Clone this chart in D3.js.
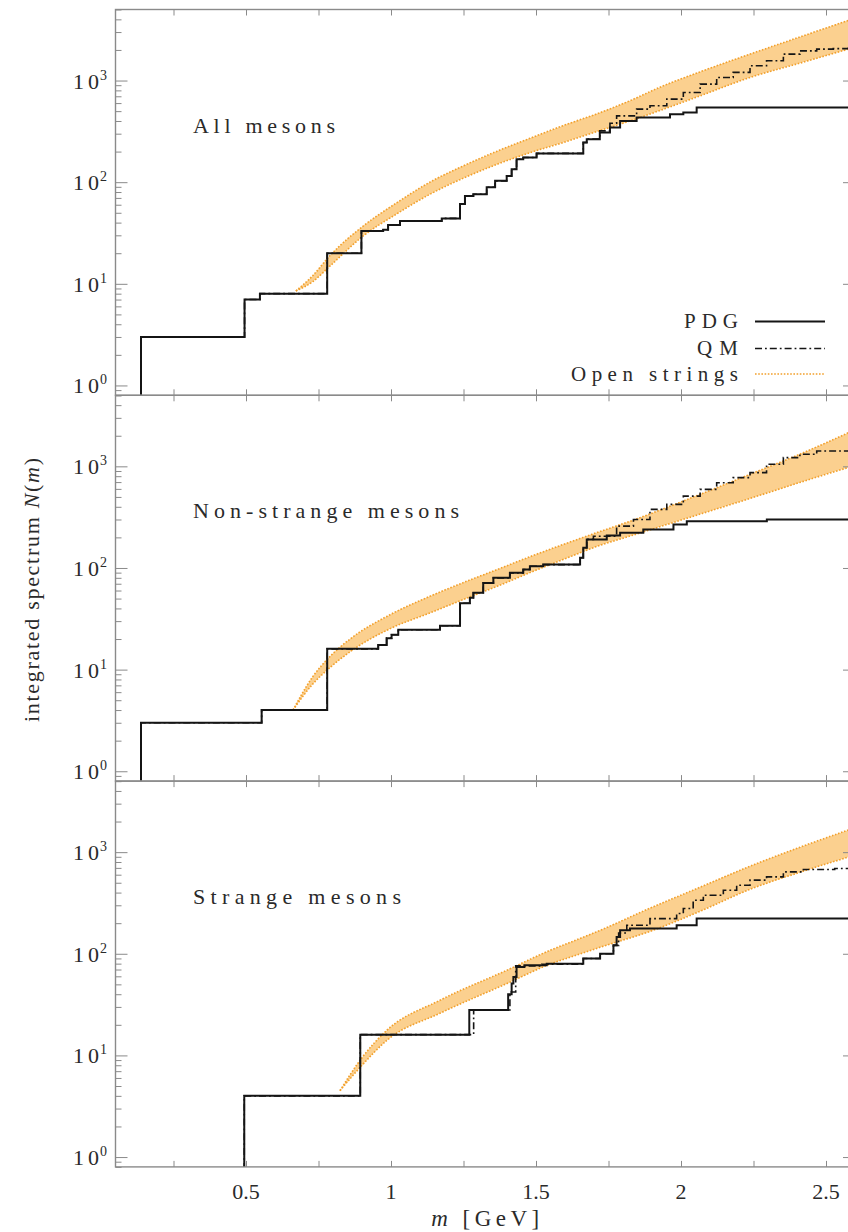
<!DOCTYPE html>
<html>
<head>
<meta charset="utf-8">
<script src="https://cdn.jsdelivr.net/npm/d3@7"></script>
<style>
  body { margin: 0; background: #fff; }
  svg { display: block; }
</style>
</head>
<body>
<svg id="chart" width="848" height="1232"></svg>
<script>
// ---- axes ----
const xDomain = [0.05, 2.6];          // m [GeV]
const yDomain = [0.8, 5000];          // N(m)
const xLabelTicks = [0.5, 1, 1.5, 2, 2.5];
const xMinorTicks = [0.25, 0.5, 0.75, 1, 1.25, 1.5, 1.75, 2, 2.25, 2.5];
const yDecades = [1, 10, 100, 1000];
const yDecadeExp = ["0", "1", "2", "3"];

const panelTitles = ["All mesons", "Non-strange mesons", "Strange mesons"];
const legendLabels = ["PDG", "QM", "Open strings"];

// ---- PDG integrated spectrum: [mass GeV, N(m) from that mass on] ----
const pdgAll = [[0.138,0],[0.138,3],[0.495,7],[0.548,8],[0.78,20],[0.898,33],[0.973,34],[0.99,38],[1.031,41.6],
  [1.175,44],[1.238,61],[1.255,73],[1.284,76],[1.33,89],[1.359,103],[1.399,115],[1.416,134],[1.433,168],[1.456,175],
  [1.502,192],[1.663,246],[1.675,265],[1.72,308],[1.755,345],[1.79,401],[1.847,433],[1.962,467],[2.008,485],[2.054,543]];
const pdgNonStrange = [[0.138,0],[0.138,3],[0.554,4],[0.78,16],[0.956,17.5],[0.985,20.4],[1.002,22],[1.025,24.7],
  [1.169,27],[1.238,45],[1.272,51],[1.284,57],[1.318,71],[1.353,80],[1.41,89.5],[1.456,96.5],[1.479,104],[1.525,108],
  [1.652,126],[1.663,158],[1.675,191],[1.744,209],[1.79,222],[1.87,239],[1.974,268],[2.02,289],[2.296,300]];
const pdgStrange = [[0.494,0],[0.494,4],[0.894,16],[1.27,28],[1.404,40],[1.416,51],[1.422,59],[1.433,74],[1.46,77],
  [1.537,80],[1.663,90],[1.721,100],[1.767,121],[1.778,146],[1.79,170],[1.824,177],[1.985,191],[2.054,222]];

// ---- quark-model spectrum ----
const qmAll = [[0.138,0],[0.138,3],[0.495,7],[0.548,8],[0.78,20],[0.898,33],[0.973,34],[0.99,38],[1.031,41.6],
  [1.175,44],[1.238,61],[1.255,73],[1.284,76],[1.33,89],[1.359,103],[1.399,115],[1.416,134],[1.433,168],[1.456,175],
  [1.502,192],[1.663,246],[1.675,265],[1.72,320],[1.755,380],[1.778,449],[1.847,523],[1.893,564],[1.951,656],
  [2.008,763],[2.066,922],[2.123,1072],[2.18,1203],[2.238,1396],[2.295,1564],[2.353,1820],[2.41,1960],[2.468,2037],
  [2.525,2060],[2.576,2196]];
const qmNonStrange = [[0.138,0],[0.138,3],[0.554,4],[0.78,16],[0.956,17.5],[0.985,20.4],[1.002,22],[1.025,24.7],
  [1.169,27],[1.238,45],[1.272,51],[1.284,57],[1.318,71],[1.353,80],[1.41,89.5],[1.456,96.5],[1.479,104],[1.525,108],
  [1.652,126],[1.663,158],[1.675,191],[1.698,205],[1.778,258],[1.836,300],[1.893,377],[1.951,422],[2.008,509],
  [2.066,593],[2.123,690],[2.18,774],[2.238,867],[2.295,1047],[2.353,1219],[2.41,1313],[2.468,1416]];
const qmStrange = [[0.494,0],[0.494,4],[0.894,16],[1.285,28],[1.41,42],[1.43,76],[1.52,79],[1.663,90],[1.721,100],
  [1.767,121],[1.785,160],[1.813,191],[1.893,222],[1.985,249],[2.008,279],[2.042,336],[2.077,377],[2.146,422],
  [2.192,472],[2.238,530],[2.295,571],[2.353,639],[2.422,674],[2.53,690]];

// ---- open-string band (upper / lower edge) ----
const bandMassAll = [0.672, 0.73, 0.79, 0.903, 1.021, 1.134, 1.248, 1.366, 1.479, 1.593, 1.71, 1.824, 1.928, 2.066, 2.238, 2.41, 2.6];
const bandHighAll = [8.5, 12, 19, 36.8, 63, 100, 144, 202, 270, 360, 470, 633, 861, 1218, 1820, 2685, 4110];
const bandLowAll  = [8.5, 10.5, 15, 29.4, 49, 76, 109, 150, 195, 245, 315, 400, 508, 707, 1072, 1484, 2130];

const bandMassNonStrange = [0.662, 0.73, 0.79, 0.859, 0.997, 1.134, 1.248, 1.366, 1.479, 1.593, 1.71, 1.824, 2.066, 2.238, 2.41, 2.6];
const bandHighNonStrange = [4.0, 8.5, 13.5, 20, 34.7, 52.6, 71.6, 96.5, 129, 170, 223, 288, 530, 835, 1318, 2290];
const bandLowNonStrange  = [4.0, 7.2, 10.5, 15, 25.3, 36.1, 48.8, 66, 90, 121, 163, 206, 339, 483, 695, 1020];

const bandMassStrange = [0.824, 0.9, 0.986, 1.169, 1.4, 1.548, 1.628, 1.721, 1.893, 2.066, 2.238, 2.41, 2.6];
const bandHighStrange = [4.5, 9.5, 17.7, 34.9, 69, 108, 133, 170, 281, 452, 727, 1117, 1740];
const bandLowStrange  = [4.5, 8, 14.1, 26, 51, 79, 94.5, 116, 166, 262, 431, 634, 935];

const panels = [
  { title: panelTitles[0], titleLen: 142, pdg: pdgAll, qm: qmAll, bm: bandMassAll, bh: bandHighAll, bl: bandLowAll, legend: true },
  { title: panelTitles[1], titleLen: 266, pdg: pdgNonStrange, qm: qmNonStrange, bm: bandMassNonStrange, bh: bandHighNonStrange, bl: bandLowNonStrange },
  { title: panelTitles[2], titleLen: 208, pdg: pdgStrange, qm: qmStrange, bm: bandMassStrange, bh: bandHighStrange, bl: bandLowStrange }
];

// ---- layout & style ----
const FONT = "'Liberation Serif', 'Times New Roman', serif";
const TEXT = "#2a2a2a";
const AXIS = "#8a8a8a";
const BAND_FILL = "#fbd08f";
const BAND_EDGE = "#f2a02c";
const LINE = "#151515";
const QM_DASH = "7,3,1.8,3";

const left = 115.5, right = 855, top0 = 9.5, panelH = 385.8;

const svg = d3.select("#chart");
const x = d3.scaleLinear().domain(xDomain).range([left, right]);

panels.forEach((p, i) => {
  const y0 = top0 + i * panelH;
  const y = d3.scaleLog().domain(yDomain).range([y0 + panelH, y0]);
  const g = svg.append("g");

  const clipId = "clip-" + i;
  svg.append("clipPath").attr("id", clipId)
    .append("rect").attr("x", left).attr("y", y0).attr("width", right - left).attr("height", panelH);
  const plot = g.append("g").attr("clip-path", `url(#${clipId})`);

  // open-string band
  const band = p.bm.map((m, k) => ({ m, lo: p.bl[k], hi: p.bh[k] }));
  plot.append("path").datum(band)
    .attr("d", d3.area().x(d => x(d.m)).y0(d => y(d.lo)).y1(d => y(d.hi)).curve(d3.curveMonotoneX))
    .attr("fill", BAND_FILL).attr("stroke", "none");
  ["lo", "hi"].forEach(key => {
    plot.append("path").datum(band)
      .attr("d", d3.line().x(d => x(d.m)).y(d => y(d[key])).curve(d3.curveMonotoneX))
      .attr("fill", "none").attr("stroke", BAND_EDGE).attr("stroke-width", 1.6)
      .attr("stroke-dasharray", "1.6,1.6");
  });

  // step curves (N = 0 below threshold drops out of the bottom of the panel)
  const yv = v => v < yDomain[0] ? y.range()[0] + 3 : y(v);
  const step = d3.line().x(d => x(d[0])).y(d => yv(d[1])).curve(d3.curveStepAfter);
  const extend = arr => arr.concat([[xDomain[1], arr[arr.length - 1][1]]]);

  plot.append("path").datum(extend(p.pdg))
    .attr("d", step).attr("fill", "none").attr("stroke", LINE).attr("stroke-width", 2);
  plot.append("path").datum(extend(p.qm))
    .attr("d", step).attr("fill", "none").attr("stroke", LINE).attr("stroke-width", 1.6)
    .attr("stroke-dasharray", QM_DASH);

  // frame
  g.append("rect").attr("x", left).attr("y", y0).attr("width", right - left).attr("height", panelH)
    .attr("fill", "none").attr("stroke", AXIS).attr("stroke-width", 1.4);

  // ticks
  const allY = y.ticks();
  const minorY = allY.filter(v => Math.abs(Math.log10(v) - Math.round(Math.log10(v))) > 1e-6);
  const tickStyle = sel => {
    sel.select(".domain").remove();
    sel.selectAll("line").attr("stroke", AXIS).attr("stroke-width", 1);
  };
  g.append("g").attr("transform", `translate(${left},0)`)
    .call(d3.axisLeft(y).tickValues(minorY).tickSize(-6).tickFormat("")).call(tickStyle);
  g.append("g").attr("transform", `translate(${left},0)`)
    .call(d3.axisLeft(y).tickValues(yDecades).tickSize(-12).tickFormat("")).call(tickStyle);
  g.append("g").attr("transform", `translate(${right},0)`)
    .call(d3.axisRight(y).tickValues(minorY).tickSize(-6).tickFormat("")).call(tickStyle);
  g.append("g").attr("transform", `translate(${right},0)`)
    .call(d3.axisRight(y).tickValues(yDecades).tickSize(-12).tickFormat("")).call(tickStyle);
  g.append("g").attr("transform", `translate(0,${y0 + panelH})`)
    .call(d3.axisBottom(x).tickValues(xMinorTicks).tickSize(-6).tickFormat("")).call(tickStyle);
  g.append("g").attr("transform", `translate(0,${y0})`)
    .call(d3.axisTop(x).tickValues(xMinorTicks).tickSize(-6).tickFormat("")).call(tickStyle);

  // decade labels 10^k
  yDecades.forEach((v, k) => {
    const ty = y(v);
    g.append("text").attr("x", 99).attr("y", ty + 8)
      .attr("text-anchor", "end").attr("font-family", FONT).attr("font-size", 22)
      .attr("fill", TEXT).attr("textLength", 26).attr("lengthAdjust", "spacing").text("10");
    g.append("text").attr("x", 100).attr("y", ty - 1)
      .attr("font-family", FONT).attr("font-size", 14).attr("fill", TEXT).text(yDecadeExp[k]);
  });

  // panel title
  g.append("text").attr("x", 193).attr("y", y0 + 123)
    .attr("font-family", FONT).attr("font-size", 22).attr("fill", TEXT)
    .attr("textLength", p.titleLen).attr("lengthAdjust", "spacing").text(p.title);

  // legend
  if (p.legend) {
    const rows = [
      { label: legendLabels[0], len: 54, dy: 312, dash: null, color: LINE, w: 2 },
      { label: legendLabels[1], len: 41, dy: 339, dash: QM_DASH, color: LINE, w: 1.6 },
      { label: legendLabels[2], len: 167, dy: 364.5, dash: "1.6,1.6", color: BAND_EDGE, w: 1.6 }
    ];
    rows.forEach(r => {
      g.append("text").attr("x", 738).attr("y", y0 + r.dy + 6.5)
        .attr("text-anchor", "end").attr("font-family", FONT).attr("font-size", 21).attr("fill", TEXT)
        .attr("textLength", r.len).attr("lengthAdjust", "spacing").text(r.label);
      g.append("line").attr("x1", 755).attr("x2", 825).attr("y1", y0 + r.dy).attr("y2", y0 + r.dy)
        .attr("stroke", r.color).attr("stroke-width", r.w)
        .attr("stroke-dasharray", r.dash);
    });
  }
});

// x tick labels on the bottom panel
const bottomY = top0 + 3 * panelH;
xLabelTicks.forEach(v => {
  svg.append("text").attr("x", x(v)).attr("y", bottomY + 32)
    .attr("text-anchor", "middle").attr("font-family", FONT).attr("font-size", 22)
    .attr("fill", TEXT).text(v);
});

// axis titles
const xt = svg.append("text").attr("x", (left + right) / 2).attr("y", 1226)
  .attr("text-anchor", "middle").attr("font-family", FONT).attr("font-size", 23).attr("fill", TEXT)
  .attr("textLength", 108).attr("lengthAdjust", "spacing");
xt.append("tspan").attr("font-style", "italic").text("m");
xt.append("tspan").text(" [GeV]");

const yt = svg.append("text").attr("transform", "translate(39,590) rotate(-90)")
  .attr("text-anchor", "middle").attr("font-family", FONT).attr("font-size", 22).attr("fill", TEXT)
  .attr("textLength", 264).attr("lengthAdjust", "spacing");
yt.append("tspan").text("integrated spectrum ");
yt.append("tspan").attr("font-style", "italic").text("N");
yt.append("tspan").text("(");
yt.append("tspan").attr("font-style", "italic").text("m");
yt.append("tspan").text(")");
</script>
</body>
</html>
